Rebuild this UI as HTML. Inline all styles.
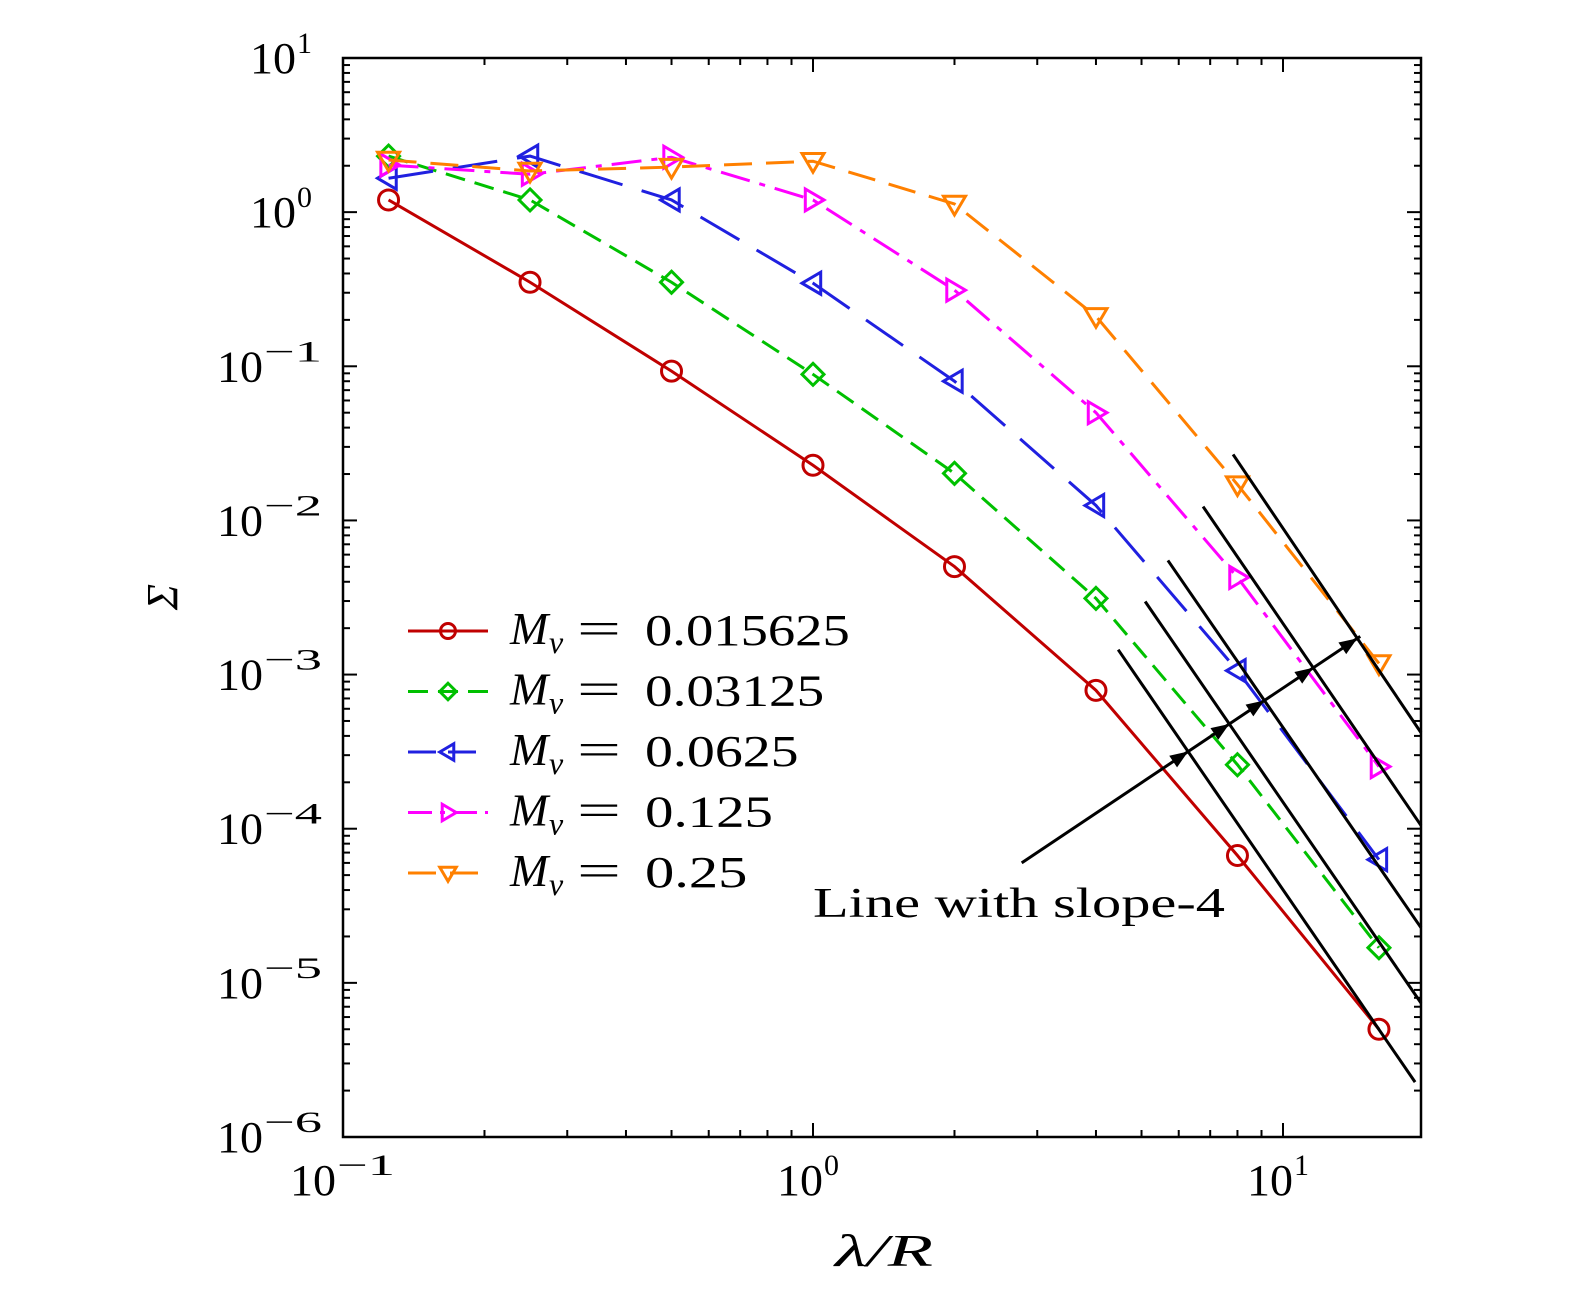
<!DOCTYPE html>
<html><head><meta charset="utf-8"><style>
body{margin:0;background:#fff}
svg text{font-family:"Liberation Serif",serif}
</style></head><body>
<svg id="chart" width="1575" height="1289" viewBox="0 0 1575 1289" xmlns="http://www.w3.org/2000/svg">
<g id="plot"></g>
</svg>
<script>
const xValues=[0.125,0.25,0.5,1,2,4,8,16];
const seriesRed=[1.2,0.351,0.093,0.0228,0.00502,7.9e-4,6.7e-5,5.0e-6];
const seriesGreen=[2.31,1.2,0.351,0.0887,0.0202,0.00312,2.6e-4,1.69e-5];
const seriesBlue=[1.66,2.31,1.2,0.346,0.08,0.0125,1.06e-3,6.3e-5];
const seriesMagenta=[2.02,1.76,2.27,1.2,0.312,0.05,0.00427,2.53e-4];
const seriesOrange=[2.18,1.85,1.96,2.14,1.13,0.211,0.0171,1.18e-3];
const seriesLabels=["0.015625","0.03125","0.0625","0.125","0.25"];
const slopeLineStartX=[4.46,5.09,5.69,6.76,7.83];
const slopeLineStartY=[1.45e-3,2.98e-3,5.5e-3,0.0123,0.0268];
const slopeLineEndX=[19.1,19.66,19.66,19.66,19.66];
const slopeLineEndY=[2.27e-6,7.4e-6,2.28e-5,1.05e-4,4.2e-4];
const arrowFrom=[2.78,6.0e-5];
const arrowTo=[14.6,1.77e-3];
const xTickExps=[-1,0,1];
const yTickExps=[1,0,-1,-2,-3,-4,-5,-6];

const L=343,R=1421,T=58,B=1137;
const X=v=>L+(Math.log10(v)+1)*470;
const Y=v=>T+(1-Math.log10(v))*(B-T)/7;
const NS="http://www.w3.org/2000/svg";
const g=document.getElementById('plot');
function mk(tag,attrs,parent){const e=document.createElementNS(NS,tag);for(const k in attrs)e.setAttribute(k,attrs[k]);(parent||g).appendChild(e);return e;}

const box=mk('rect',{x:L,y:T,width:R-L,height:B-T,fill:'none',stroke:'#000','stroke-width':2.5});



const tg=mk('g',{stroke:'#000','stroke-width':2});


for(let e=-1;e<=1;e++){for(let m=1;m<10;m++){const v=m*Math.pow(10,e);const px=X(v);if(px>R+0.5)continue;const len=m==1?14:7;
mk('line',{x1:px,y1:B,x2:px,y2:B-len},tg);mk('line',{x1:px,y1:T,x2:px,y2:T+len},tg);}}
for(let e=-6;e<=0;e++){for(let m=1;m<10;m++){const v=m*Math.pow(10,e);const py=Y(v);const len=m==1?14:7;
mk('line',{x1:L,y1:py,x2:L+len,y2:py},tg);mk('line',{x1:R,y1:py,x2:R-len,y2:py},tg);}}
mk('line',{x1:L,y1:Y(10),x2:L+14,y2:Y(10)},tg);mk('line',{x1:R,y1:Y(10),x2:R-14,y2:Y(10)},tg);

function powLabel(x0,yb,e,name){
 const t=mk('text',{x:x0,y:yb,'font-size':44,textLength:46,lengthAdjust:'spacingAndGlyphs'});t.textContent='10';
 
 
 const s=mk('text',{x:x0+47,y:yb-20,'font-size':30});
 if(e<0){s.setAttribute('textLength',58);s.setAttribute('lengthAdjust','spacingAndGlyphs');}
 s.textContent=e<0?'−'+(-e):String(e);
 
 
}
xTickExps.forEach(e=>{const cx=X(Math.pow(10,e));powLabel(e<0?cx-53:cx-36,1195,e,'x-tick-label');});
yTickExps.forEach(e=>{const py=Y(Math.pow(10,e));powLabel(e<0?217:250,py+15,e,'y-tick-label');});

const xt=mk('text',{x:835,y:1266,'font-size':46,'font-style':'italic',textLength:98,lengthAdjust:'spacingAndGlyphs'});xt.textContent='λ/R';


const yt=mk('text',{x:0,y:0,'font-size':44,'text-anchor':'middle','font-style':'italic',transform:'translate(177,597) rotate(-90)'});yt.textContent='Σ';



const series=[
 {d:seriesRed,c:'#c00000',dash:'',m:'circle'},
 {d:seriesGreen,c:'#00c000',dash:'20 10',m:'diamond'},
 {d:seriesBlue,c:'#2020e0',dash:'45 20',m:'left'},
 {d:seriesMagenta,c:'#ff00ff',dash:'30 10 6 10',m:'right'},
 {d:seriesOrange,c:'#ff8000',dash:'28 14',m:'down'}];
function marker(type,x,y,c,parent,s){s=s||1;let e;
 if(type=='circle')e=mk('circle',{cx:x,cy:y,r:10*s,fill:'none',stroke:c,'stroke-width':3},parent);
 else{let p;const r=11*s;
  if(type=='diamond')p=[[x,y-r],[x+r,y],[x,y+r],[x-r,y]];
  if(type=='left')p=[[x-r,y],[x+r*0.7,y-r],[x+r*0.7,y+r]];
  if(type=='right')p=[[x+r,y],[x-r*0.7,y-r],[x-r*0.7,y+r]];
  if(type=='down')p=[[x,y+r],[x-r,y-r*0.7],[x+r,y-r*0.7]];
  e=mk('polygon',{points:p.map(q=>q.join(',')).join(' '),fill:'none',stroke:c,'stroke-width':3},parent);}
 return e;}
series.forEach((s,i)=>{const sg=mk('g',{});
 
 
 const pts=xValues.map((x,j)=>X(x)+','+Y(s.d[j])).join(' ');
 const pl=mk('polyline',{points:pts,fill:'none',stroke:s.c,'stroke-width':3,'stroke-dasharray':s.dash},sg);
 
 
 xValues.forEach((x,j)=>{const mm=marker(s.m,X(x),Y(s.d[j]),s.c,sg);
  
  });
});

const segs=[];
slopeLineStartX.forEach((x,i)=>{const a=[X(x),Y(slopeLineStartY[i])],b=[X(slopeLineEndX[i]),Y(slopeLineEndY[i])];segs.push([a,b]);
 const ln=mk('line',{x1:a[0],y1:a[1],x2:b[0],y2:b[1],stroke:'#000','stroke-width':3});
 
 });
const A=[X(arrowFrom[0]),Y(arrowFrom[1])],Bp=[X(arrowTo[0]),Y(arrowTo[1])];
const al=mk('line',{x1:A[0],y1:A[1],x2:Bp[0],y2:Bp[1],stroke:'#000','stroke-width':3});


const dx=Bp[0]-A[0],dy=Bp[1]-A[1],len=Math.hypot(dx,dy),ux=dx/len,uy=dy/len;
segs.forEach(([p,q])=>{const ex=q[0]-p[0],ey=q[1]-p[1];const den=dx*ey-dy*ex;
 const t=((p[0]-A[0])*ey-(p[1]-A[1])*ex)/den;const hx=A[0]+t*dx,hy=A[1]+t*dy;
 const h=18,w=7;const pts=[[hx,hy],[hx-ux*h-uy*w,hy-uy*h+ux*w],[hx-ux*h+uy*w,hy-uy*h-ux*w]];
 const ah=mk('polygon',{points:pts.map(v=>v.join(',')).join(' '),fill:'#000'});
 
 });
const at=mk('text',{x:813,y:917,'font-size':42,textLength:412,lengthAdjust:'spacingAndGlyphs'});at.textContent='Line with slope-4';



const lg=mk('g',{});


series.forEach((s,i)=>{const y=631+i*60.5;const eg=mk('g',{},lg);
 
 
 mk('line',{x1:408,y1:y,x2:488,y2:y,stroke:s.c,'stroke-width':3,'stroke-dasharray':s.dash=='45 20'?'28 12':s.dash=='30 10 6 10'?'24 8 5 8':s.dash},eg);
 marker(s.m,448,y,s.c,eg,0.75);
 const m=mk('text',{x:510,y:y+13,'font-size':46,'font-style':'italic'},eg);m.textContent='M';
 const v=mk('text',{x:549,y:y+22,'font-size':32,'font-style':'italic'},eg);v.textContent='v';
 const eq=mk('text',{x:577,y:y+13,'font-size':46,textLength:44,lengthAdjust:'spacingAndGlyphs'},eg);eq.textContent='=';
 const val=seriesLabels[i];
 const vt=mk('text',{x:645,y:y+14,'font-size':44,textLength:val.length*25.6,lengthAdjust:'spacingAndGlyphs'},eg);vt.textContent=val;});
</script>
</body></html>
